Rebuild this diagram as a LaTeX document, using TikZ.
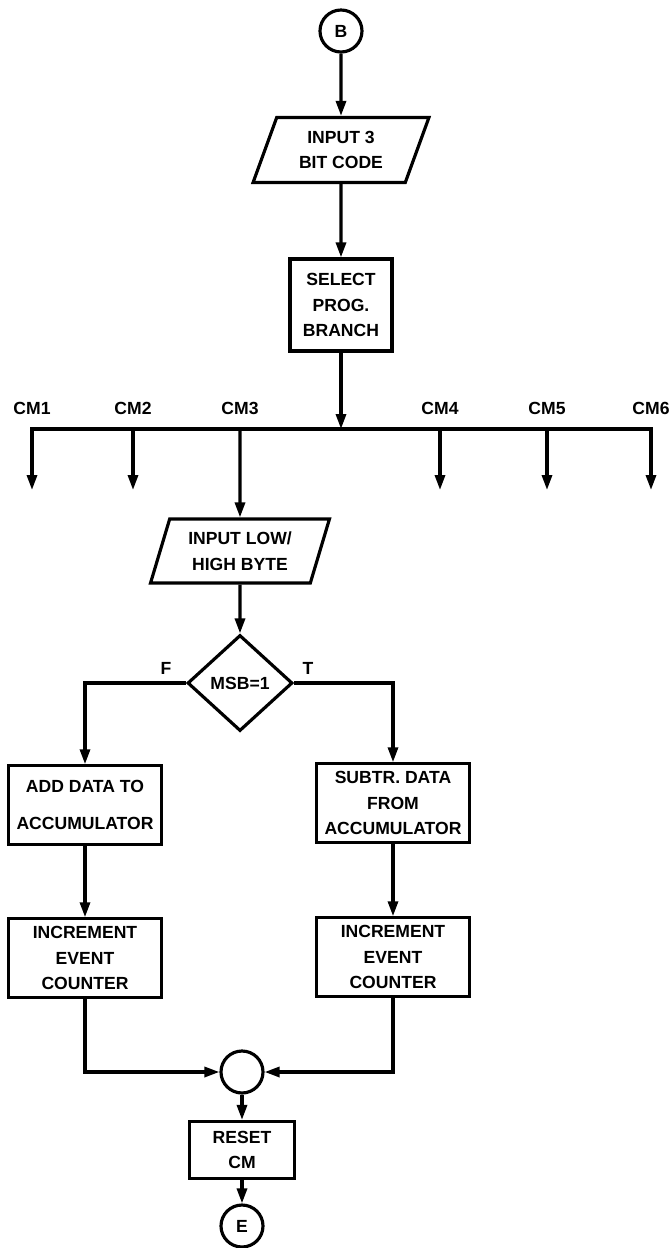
\documentclass[tikz,border=0pt]{standalone}
\usepackage{fontspec}
\setmainfont{Liberation Sans}
\usetikzlibrary{arrows.meta,positioning,shapes.geometric}

\begin{document}
\begin{tikzpicture}[x=0.03cm, y=-0.03cm, line width=2.7pt,
  >={Triangle[length=0.45cm,width=0.3cm]},
  font=\fontsize{15}{22}\selectfont\bfseries,
  conn/.style={circle, draw, minimum size=1.26cm, inner sep=0pt},
  proc/.style={rectangle, draw, align=center, inner sep=0pt,
               minimum width=4.58cm, minimum height=2.35cm},
  io/.style={trapezium, draw, align=center, inner sep=0pt,
             trapezium stretches=true},
  decide/.style={diamond, draw, inner sep=0pt, minimum width=3.15cm,
                 minimum height=2.88cm},
  lbl/.style={inner sep=0pt},
]
  \useasboundingbox (0,0) rectangle (669,1248);

  \node[conn] (B) at (341,31) {B};
  \node[io, trapezium left angle=68, trapezium right angle=112,
        minimum width=5.28cm, minimum height=1.95cm] (in1) at (341,150) {INPUT 3\\BIT CODE};
  \node[proc, minimum width=3.06cm, minimum height=2.76cm] (sel) at (341,305) {SELECT\\PROG.\\BRANCH};

  \coordinate (bus) at (341,429);
  \foreach \n/\x in {1/32,2/133,3/240,4/440,5/547,6/651} {
    \coordinate (c\n) at (\x,429);
    \coordinate (e\n) at (\x,490);
    \node[lbl, above=0.38cm of c\n] (l\n) {CM\n};
  }

  \node[io, trapezium left angle=70, trapezium right angle=110,
        minimum width=5.37cm, minimum height=1.92cm] (in2) at (240,551) {INPUT LOW/\\HIGH BYTE};
  \node[decide] (dec) at (240,683) {MSB=1};
  \node[lbl] (f) at (166,668) {F};
  \node[lbl] (t) at (308,668) {T};

  \node[proc] (add) at (85,805) {ADD DATA TO\\[10pt]ACCUMULATOR};
  \node[proc] (sub) at (393,803) {SUBTR. DATA\\FROM\\ACCUMULATOR};
  \node[proc] (incl) at (85,958) {INCREMENT\\EVENT\\COUNTER};
  \node[proc] (incr) at (393,957) {INCREMENT\\EVENT\\COUNTER};

  \node[conn] (join) at (242,1072) {};
  \node[proc, minimum width=3.15cm, minimum height=1.71cm] (reset) at (242,1150) {RESET\\CM};
  \node[conn] (E) at (242,1226) {E};

  \draw[->] (B) -- (in1);
  \draw[->] (in1) -- (sel);
  \draw[->] (sel) -- (bus);
  \draw[<->] (e1) -- (c1) -- (c6) -- (e6);
  \foreach \n in {2,4,5} \draw[->] (c\n) -- (e\n);
  \draw[->] (c3) -- (in2);
  \draw[->] (in2) -- (dec);
  \draw[->] (dec.west) -| (add);
  \draw[->] (dec.east) -| (sub);
  \draw[->] (add) -- (incl);
  \draw[->] (sub) -- (incr);
  \draw[->] (incl) |- (join);
  \draw[->] (incr) |- (join);
  \draw[->] (join) -- (reset);
  \draw[->] (reset) -- (E);
\end{tikzpicture}
\end{document}
